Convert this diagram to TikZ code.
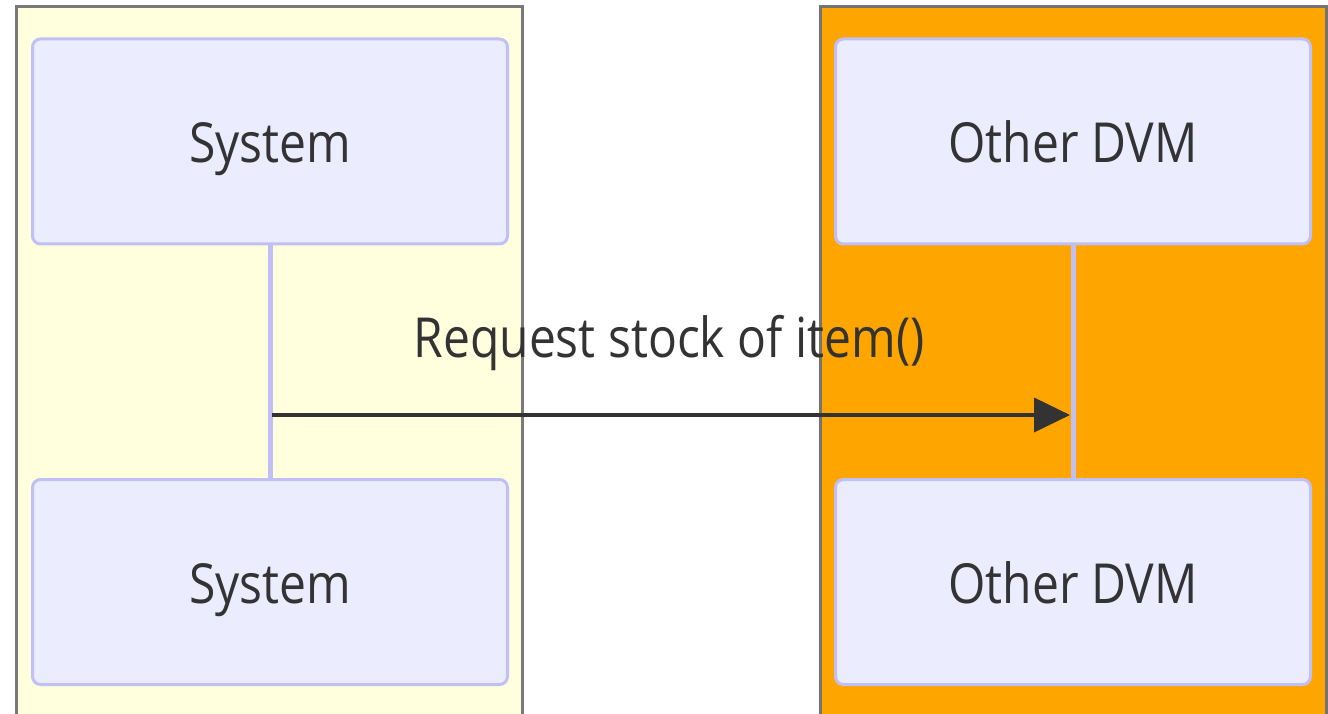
\documentclass[tikz,border=0pt]{standalone}
\usepackage{fontspec}
\setmainfont{Open Sans}
\usetikzlibrary{arrows.meta}
\definecolor{actfill}{HTML}{ECECFF}
\definecolor{actline}{HTML}{C0C0F6}
\definecolor{txt}{HTML}{333333}
\definecolor{ybox}{HTML}{FFFFDE}
\definecolor{obox}{HTML}{FFA500}
\newcommand{\tallt}[1]{\scalebox{1}[1.15]{#1}}
\begin{document}
\begin{tikzpicture}[x=1pt,y=-1pt,
  actor/.style={draw=actline,fill=actfill,line width=3pt,rounded corners=8pt,minimum width=475pt,minimum height=205pt,inner sep=0pt,text height=43pt,text depth=0pt,text=txt,font=\fontsize{48}{56}\selectfont},
  lifeline/.style={draw=actline,line width=5pt},
  msg/.style={draw=txt,line width=4pt,-{Triangle[length=36pt,width=34pt]}},
  grp/.style={line width=3pt}]
\useasboundingbox (0,0) rectangle (1328,714);
\fill[white] (0,0) rectangle (1328,714);
\draw[grp,draw=gray!95!black,fill=ybox] (16,7) rectangle (522,730);
\draw[grp,draw=black!55,fill=obox] (820,7) rectangle (1326,730);
\node[actor] (s1) at (270,141.5) {\tallt{System}};
\node[actor] (s2) at (270,582) {\tallt{System}};
\node[actor] (o1) at (1073,141.5) {\tallt{Other DVM}};
\node[actor] (o2) at (1073,582) {\tallt{Other DVM}};
\draw[lifeline] (s1.south) -- (s2.north);
\draw[lifeline] (o1.south) -- (o2.north);
\coordinate (a) at (272,415);
\coordinate (b) at (1070,415);
\draw[msg] (a) -- (b);
\node[text=txt,font=\fontsize{48}{56}\selectfont,anchor=base,inner sep=0pt] (lbl) at (669,357) {\tallt{Request stock of item()}};
\end{tikzpicture}
\end{document}
